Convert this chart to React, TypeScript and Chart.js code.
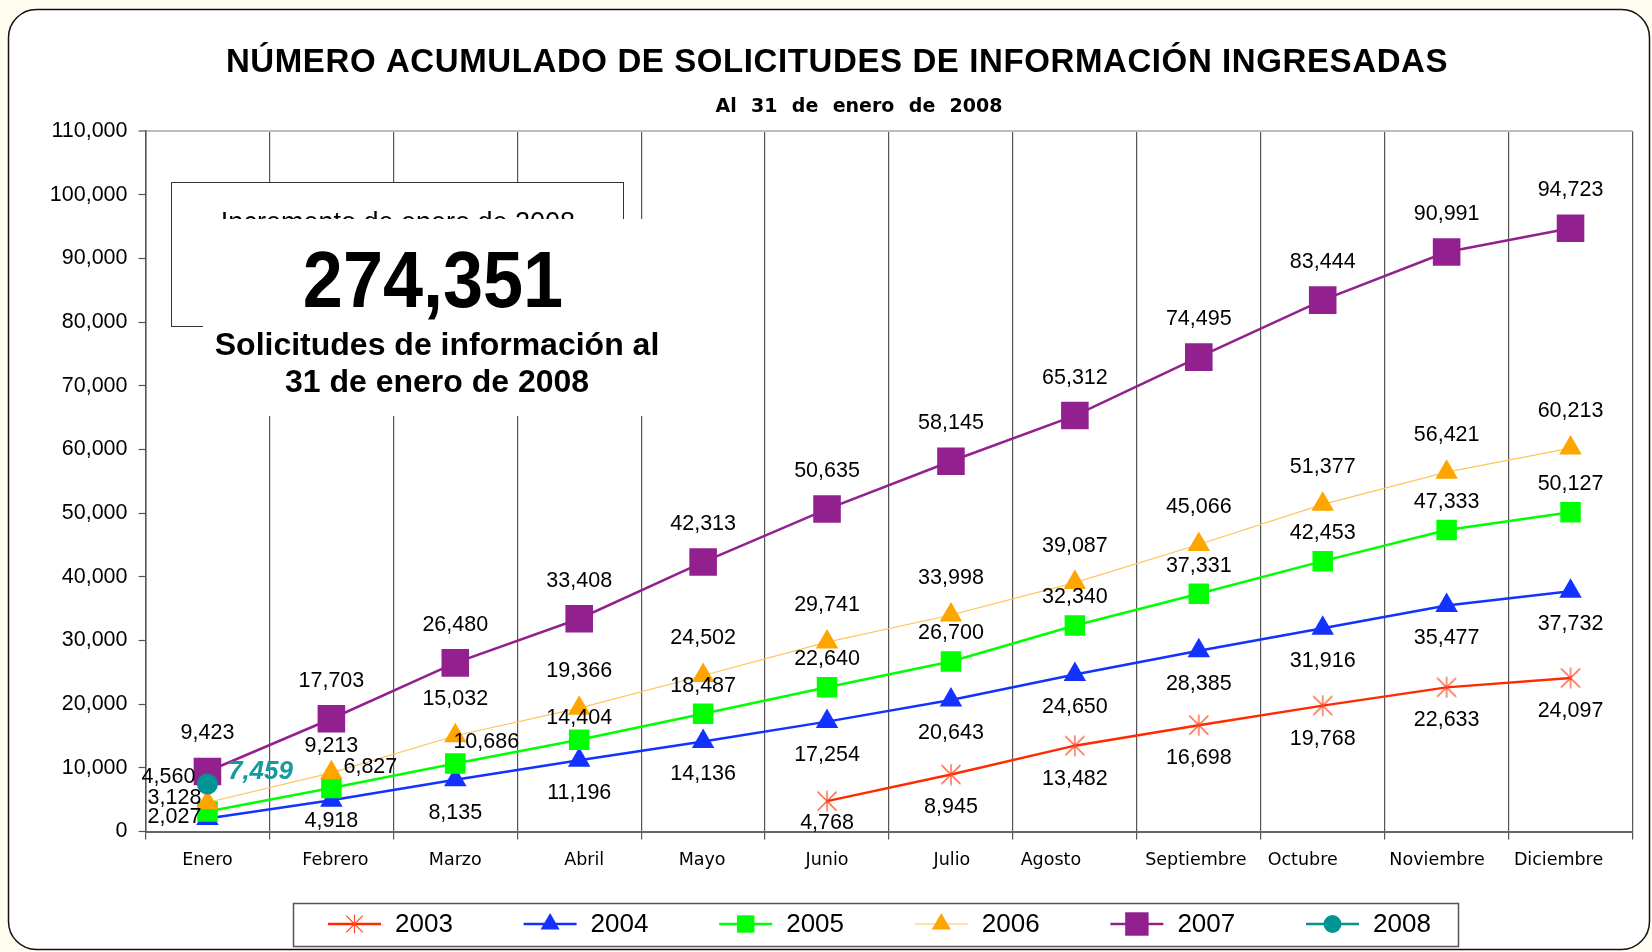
import React, { useEffect, useRef } from 'react';
import { Chart, registerables } from 'chart.js';

Chart.register(...registerables);

// ---------- data ----------
const months = ['Enero', 'Febrero', 'Marzo', 'Abril', 'Mayo', 'Junio', 'Julio', 'Agosto', 'Septiembre', 'Octubre', 'Noviembre', 'Diciembre'];
const seriesNames = ['2003', '2004', '2005', '2006', '2007', '2008'];
const s2003 = [null, null, null, null, null, 4768, 8945, 13482, 16698, 19768, 22633, 24097];
const s2004 = [2027, 4918, 8135, 11196, 14136, 17254, 20643, 24650, 28385, 31916, 35477, 37732];
const s2005 = [3128, 6827, 10686, 14404, 18487, 22640, 26700, 32340, 37331, 42453, 47333, 50127];
const s2006 = [4560, 9213, 15032, 19366, 24502, 29741, 33998, 39087, 45066, 51377, 56421, 60213];
const s2007 = [9423, 17703, 26480, 33408, 42313, 50635, 58145, 65312, 74495, 83444, 90991, 94723];
const s2008 = [7459, null, null, null, null, null, null, null, null, null, null, null];
const yMin = 0;
const yMax = 110000;
const yStep = 10000;
const totalRequests = 274351;

const titleText = 'NÚMERO ACUMULADO DE SOLICITUDES DE INFORMACIÓN INGRESADAS';
const subtitleText = 'Al 31 de enero de 2008';
const boxCaption = 'Incremento de enero de 2008';
const boxLines = ['Solicitudes de información al', '31 de enero de 2008'];

const FONT = '"Liberation Sans", Arial, sans-serif';
const XFONT = '"DejaVu Sans", Verdana, sans-serif';
const fmt = (v: number) => v.toLocaleString('en-US');

// ---------- styles ----------
const RED = '#ff2a00';
const BLUE = '#1432ff';
const GREEN = '#00ff00';
const ORANGE = '#ffa500';
const ORANGE_LINE = '#ffc45a';
const PURPLE = '#93208f';
const TEAL = '#009494';

// horizontal nudges of the category labels (as placed in the original)
const xLabelNudge = [0, 4, 0, 5, -1, 0, 1, -24, -3, -20, -9.5, -12];

function makeAsterisk(size: number, color: string) {
  const c = document.createElement('canvas');
  c.width = size;
  c.height = size;
  const g = c.getContext('2d')!;
  g.strokeStyle = color;
  g.lineWidth = 1.2;
  const m = 1.5;
  g.beginPath();
  g.moveTo(m, m); g.lineTo(size - m, size - m);
  g.moveTo(size - m, m); g.lineTo(m, size - m);
  g.moveTo(size / 2, 0.5); g.lineTo(size / 2, size - 0.5);
  g.stroke();
  return c;
}

type Marker = { kind: string; r: number; color: string };
const markers: Marker[] = [
  { kind: 'asterisk', r: 11, color: '#ff4a26' },
  { kind: 'triangle', r: 13, color: BLUE },
  { kind: 'rect', r: 14.5, color: GREEN },
  { kind: 'triangle', r: 13, color: ORANGE },
  { kind: 'rect', r: 19.5, color: PURPLE },
  { kind: 'circle', r: 10.5, color: TEAL },
];
const lineColors = [RED, BLUE, GREEN, ORANGE_LINE, PURPLE, TEAL];
const lineWidths = [2.5, 2.5, 2.5, 1.2, 2.5, 2.5];

// label placement: default vertical offset per series + specific overrides
const labelDy = [33, 33, -28, -37, -38, -12];
const labelOverrides: Record<string, { dx: number; dy: number }> = {
  '3-0': { dx: -39, dy: -25 },
  '3-1': { dx: 0, dy: -27 },
  '2-0': { dx: -33, dy: -14 },
  '2-1': { dx: 39, dy: -21 },
  '2-2': { dx: 31, dy: -21 },
  '2-3': { dx: 0, dy: -22 },
  '1-0': { dx: -33, dy: -2 },
  '1-1': { dx: 0, dy: 21 },
  '0-5': { dx: 0, dy: 22 },
  '5-0': { dx: 53, dy: -12 },
};

function drawLegendMarker(ctx: CanvasRenderingContext2D, m: Marker, x: number, y: number) {
  ctx.save();
  ctx.fillStyle = m.color;
  ctx.strokeStyle = m.color;
  const r = m.r;
  if (m.kind === 'rect') {
    const s = r * Math.SQRT1_2;
    ctx.fillRect(x - s, y - s, 2 * s, 2 * s);
  } else if (m.kind === 'triangle') {
    ctx.beginPath();
    ctx.moveTo(x, y - r);
    ctx.lineTo(x + r * 0.866, y + r / 2);
    ctx.lineTo(x - r * 0.866, y + r / 2);
    ctx.closePath();
    ctx.fill();
  } else if (m.kind === 'circle') {
    ctx.beginPath();
    ctx.arc(x, y, r, 0, Math.PI * 2);
    ctx.fill();
  } else {
    ctx.lineWidth = 1.2;
    const h = r;
    ctx.beginPath();
    ctx.moveTo(x - h + 1, y - h + 1); ctx.lineTo(x + h - 1, y + h - 1);
    ctx.moveTo(x + h - 1, y - h + 1); ctx.lineTo(x - h + 1, y + h - 1);
    ctx.moveTo(x, y - h); ctx.lineTo(x, y + h);
    ctx.stroke();
  }
  ctx.restore();
}

const bgPlugin = {
  id: 'bg',
  beforeDraw(chart: any) {
    const ctx = chart.ctx as CanvasRenderingContext2D;
    ctx.save();
    ctx.fillStyle = '#fffdf0';
    ctx.fillRect(0, 0, chart.width, chart.height);
    ctx.beginPath();
    (ctx as any).roundRect(8.5, 9.5, 1641, 940, 28);
    ctx.fillStyle = '#ffffff';
    ctx.fill();
    ctx.strokeStyle = '#111';
    ctx.lineWidth = 1.5;
    ctx.stroke();
    ctx.restore();
  },
};

const boxPlugin = {
  id: 'infobox',
  beforeDatasetsDraw(chart: any) {
    const ctx = chart.ctx as CanvasRenderingContext2D;
    ctx.save();
    // outer box (partly hidden)
    ctx.fillStyle = '#fff';
    ctx.fillRect(171, 182, 452, 144);
    ctx.strokeStyle = '#333';
    ctx.lineWidth = 1;
    ctx.strokeRect(171.5, 182.5, 452, 144);
    ctx.fillStyle = '#000';
    ctx.font = `27px ${FONT}`;
    ctx.textAlign = 'center';
    ctx.textBaseline = 'alphabetic';
    ctx.fillText(boxCaption, 398, 231);
    // white overlay box
    ctx.fillStyle = '#fff';
    ctx.fillRect(203, 219, 442, 197);
    // big number
    ctx.fillStyle = '#000';
    ctx.save();
    ctx.translate(433, 307);
    ctx.scale(0.9, 1);
    ctx.font = `bold 80px ${FONT}`;
    ctx.fillText(fmt(totalRequests), 0, 0);
    ctx.restore();
    ctx.font = `bold 32px ${FONT}`;
    ctx.fillText(boxLines[0], 437, 355);
    ctx.fillText(boxLines[1], 437, 392);
    ctx.restore();
  },
};

const labelPlugin = {
  id: 'valueLabels',
  afterDatasetsDraw(chart: any) {
    const ctx = chart.ctx as CanvasRenderingContext2D;
    ctx.save();
    ctx.textAlign = 'center';
    ctx.textBaseline = 'middle';
    chart.data.datasets.forEach((ds: any, di: number) => {
      const meta = chart.getDatasetMeta(di);
      if (di === 5) {
        ctx.font = `italic bold 26px ${FONT}`;
        ctx.fillStyle = '#159b9b';
      } else {
        ctx.font = `21.5px ${FONT}`;
        ctx.fillStyle = '#000';
      }
      meta.data.forEach((el: any, i: number) => {
        const v = ds.data[i];
        if (v === null || v === undefined) return;
        const o = labelOverrides[`${di}-${i}`] || { dx: 0, dy: labelDy[di] };
        ctx.fillText(fmt(v), el.x + o.dx, el.y + o.dy);
      });
    });
    ctx.restore();
  },
};

const titleLegendPlugin = {
  id: 'titleLegend',
  afterDraw(chart: any) {
    const ctx = chart.ctx as CanvasRenderingContext2D;
    ctx.save();
    // category labels, positioned through the x scale
    const xs = chart.scales.x;
    ctx.fillStyle = '#000';
    ctx.textAlign = 'center';
    ctx.textBaseline = 'middle';
    ctx.font = `17.5px ${XFONT}`;
    chart.data.labels.forEach((lab: string, i: number) => {
      ctx.fillText(lab, xs.getPixelForValue(i) + xLabelNudge[i], 860);
    });
    // title
    ctx.font = `bold 33px ${FONT}`;
    (ctx as any).letterSpacing = '0.6px';
    ctx.fillText(titleText, 837, 63);
    (ctx as any).letterSpacing = '0px';
    // subtitle with wide word gaps
    ctx.font = `bold 19px ${XFONT}`;
    const words = subtitleText.split(' ');
    const widths = words.map((w) => ctx.measureText(w).width);
    const total = 287;
    const gap = (total - widths.reduce((a, b) => a + b, 0)) / (words.length - 1);
    let x = 859 - total / 2;
    ctx.textAlign = 'left';
    words.forEach((w, i) => {
      ctx.fillText(w, x, 107);
      x += widths[i] + gap;
    });
    // legend
    ctx.strokeStyle = '#555';
    ctx.lineWidth = 1.5;
    ctx.strokeRect(293.5, 903.5, 1165, 43);
    ctx.font = `26px ${FONT}`;
    ctx.textBaseline = 'middle';
    chart.data.datasets.forEach((ds: any, i: number) => {
      const x0 = 328 + i * 195.6;
      const y = 924;
      ctx.strokeStyle = lineColors[i];
      ctx.lineWidth = lineWidths[i];
      ctx.beginPath();
      ctx.moveTo(x0, y);
      ctx.lineTo(x0 + 53, y);
      ctx.stroke();
      drawLegendMarker(ctx, { ...markers[i], r: markers[i].r * 0.85 }, x0 + 26.5, y);
      ctx.fillStyle = '#000';
      ctx.textAlign = 'left';
      ctx.fillText(ds.label, x0 + 67, y + 1);
    });
    ctx.restore();
  },
};

export default function App() {
  const ref = useRef<HTMLCanvasElement | null>(null);

  useEffect(() => {
    if (!ref.current) return;
    const series = [s2003, s2004, s2005, s2006, s2007, s2008];
    const asterisk = makeAsterisk(22, markers[0].color);
    const datasets = series.map((data, i) => {
      const m = markers[i];
      return {
        label: seriesNames[i],
        data,
        order: series.length - 1 - i,
        borderColor: lineColors[i],
        borderWidth: lineWidths[i],
        backgroundColor: m.color,
        pointStyle: m.kind === 'asterisk' ? asterisk : m.kind,
        pointRadius: m.r,
        pointBackgroundColor: m.color,
        pointBorderColor: m.color,
        pointBorderWidth: 0,
        spanGaps: false,
        tension: 0,
        fill: false,
      };
    });

    const chart = new Chart(ref.current, {
      type: 'line',
      data: { labels: months, datasets: datasets as any },
      options: {
        animation: false,
        responsive: false,
        devicePixelRatio: 1,
        events: [],
        layout: { padding: { left: 0, top: 131, right: 19, bottom: 60.5 } },
        plugins: {
          legend: { display: false },
          title: { display: false },
          tooltip: { enabled: false },
        },
        scales: {
          x: {
            type: 'category',
            offset: true,
            grid: {
              offset: true,
              color: '#555',
              lineWidth: 1.2,
              tickLength: 8,
              tickColor: '#555',
              drawOnChartArea: true,
            },
            border: { color: '#666', width: 2 },
            ticks: { display: false, autoSkip: false, maxRotation: 0 },
            afterFit: (s: any) => { s.height = 60; },
          },
          y: {
            min: yMin,
            max: yMax,
            ticks: {
              stepSize: yStep,
              callback: (v: any) => fmt(Number(v)),
              font: { family: FONT, size: 21.5 },
              color: '#000',
              padding: 11,
            },
            grid: {
              color: (c: any) => (c.tick && c.tick.value === yMax ? '#bdbdbd' : 'rgba(0,0,0,0)'),
              lineWidth: (c: any) => (c.tick && c.tick.value === yMax ? 2 : 1),
              tickLength: 7,
              tickColor: '#555',
              tickWidth: 1.2,
            },
            border: { color: '#555', width: 1.5 },
            afterFit: (s: any) => { s.width = 145.5; },
          },
        },
      } as any,
      plugins: [bgPlugin, boxPlugin, labelPlugin, titleLegendPlugin],
    });
    return () => chart.destroy();
  }, []);

  return (
    <div style={{ position: 'absolute', left: 0, top: 0, width: 1652, height: 952 }}>
      <canvas ref={ref} width={1652} height={952} style={{ width: 1652, height: 952, display: 'block' }} />
    </div>
  );
}
